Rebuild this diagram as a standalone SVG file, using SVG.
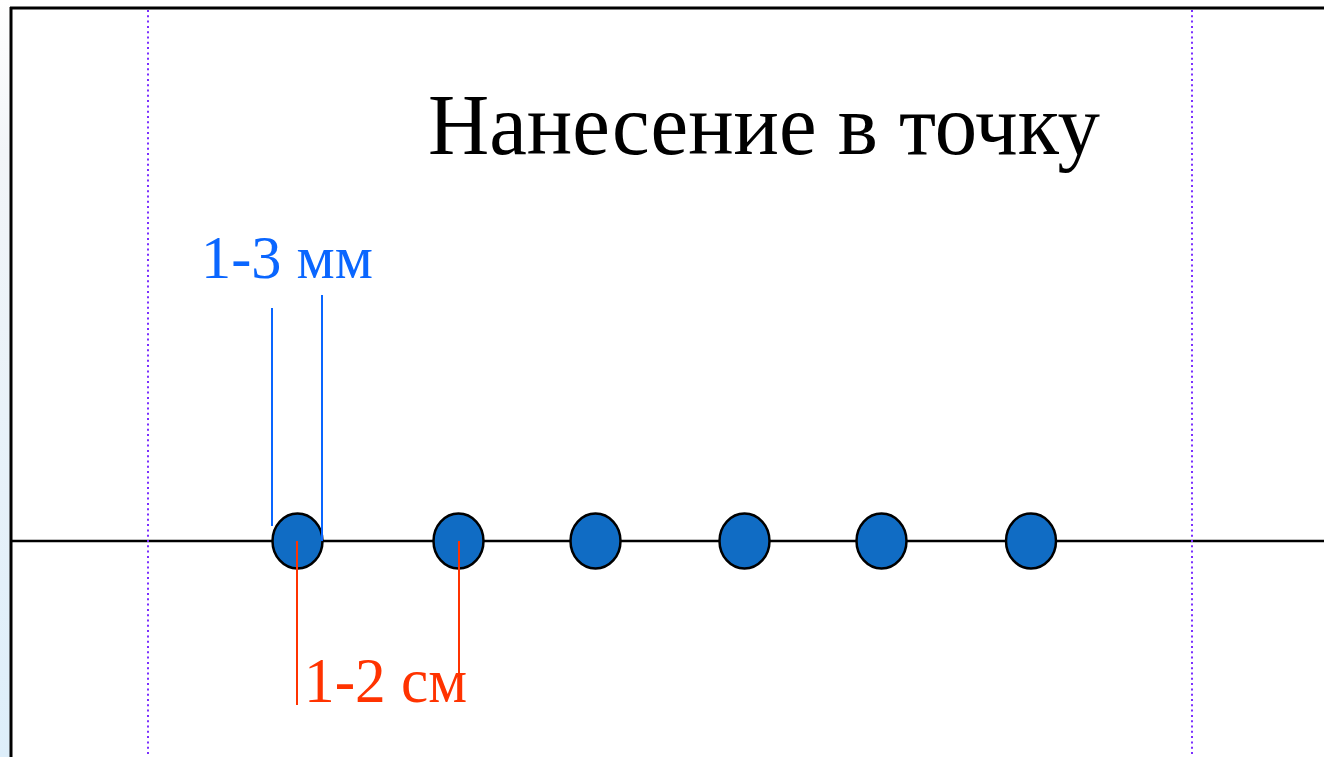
<svg xmlns="http://www.w3.org/2000/svg" width="1324" height="757" viewBox="0 0 1324 757">
  <defs>
    <linearGradient id="strip" x1="0" y1="0" x2="0" y2="1">
      <stop offset="0" stop-color="#ffffff"/>
      <stop offset="0.2" stop-color="#f2f5f8"/>
      <stop offset="1" stop-color="#ddeefa"/>
    </linearGradient>
    <style>
      .guide { stroke: #7b2fff; stroke-width: 2; stroke-dasharray: 2 3.3; fill: none; }
      .frame { stroke: #000; fill: none; }
      .dot { fill: #106cc4; stroke: #000; stroke-width: 2.5; }
      .blue { stroke: #0a66ff; stroke-width: 2; }
      .red { stroke: #ff3300; stroke-width: 2; }
      .t { font-family: "Liberation Serif", "Times New Roman", serif; }
    </style>
  </defs>
  <rect x="0" y="0" width="1324" height="757" fill="#ffffff"/>
  <rect x="0" y="0" width="10" height="757" fill="url(#strip)"/>

  <g id="frame">
    <line class="frame" x1="10" y1="8" x2="1324" y2="8" stroke-width="3"/>
    <line class="frame" x1="11" y1="7" x2="11" y2="757" stroke-width="3"/>
    <line class="frame" x1="11" y1="541" x2="1324" y2="541" stroke-width="2.5"/>
  </g>

  <g id="guides">
    <line class="guide" x1="148" y1="10" x2="148" y2="757"/>
    <line class="guide" x1="1192" y1="10" x2="1192" y2="757"/>
  </g>

  <g id="title">
    <text class="t" x="428" y="154" font-size="87" fill="#000" textLength="672" lengthAdjust="spacingAndGlyphs">Нанесение в точку</text>
  </g>

  <g id="dots">
    <ellipse id="dot1" class="dot" cx="297.5" cy="541" rx="25" ry="27.5"/>
    <ellipse id="dot2" class="dot" cx="458.5" cy="541" rx="25" ry="27.5"/>
    <ellipse id="dot3" class="dot" cx="595.5" cy="541" rx="25" ry="27.5"/>
    <ellipse id="dot4" class="dot" cx="744.5" cy="541" rx="25" ry="27.5"/>
    <ellipse id="dot5" class="dot" cx="881.5" cy="541" rx="25" ry="27.5"/>
    <ellipse id="dot6" class="dot" cx="1031" cy="541" rx="25" ry="27.5"/>
  </g>

  <g id="connectors">
    <line class="blue" x1="272" y1="308" x2="272" y2="526"/>
    <line class="blue" x1="322" y1="295" x2="322" y2="541"/>
    <line class="red" x1="297" y1="541" x2="297" y2="705"/>
    <line class="red" x1="459" y1="541" x2="459" y2="676"/>
  </g>

  <g id="label-mm">
    <text class="t" x="201" y="278" font-size="62" fill="#0a66ff" textLength="172" lengthAdjust="spacingAndGlyphs">1-3 мм</text>
  </g>
  <g id="label-cm">
    <text class="t" x="304" y="702" font-size="64" fill="#ff3300" textLength="163" lengthAdjust="spacingAndGlyphs">1-2 см</text>
  </g>
</svg>
